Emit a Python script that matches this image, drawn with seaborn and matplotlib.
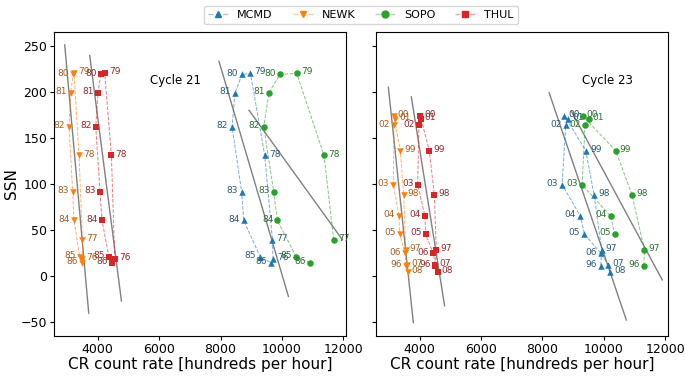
import numpy as np
import pandas as pd
import seaborn as sns
import matplotlib.pyplot as plt
import matplotlib.colors as mcolors
from matplotlib.lines import Line2D

# ---- data ----
stations = ['MCMD', 'NEWK', 'SOPO', 'THUL']

years_c21 = ['76', '77', '78', '79', '80', '81', '82', '83', '84', '85', '86']
ssn_c21 = [18.4, 39.3, 131.0, 220.1, 218.9, 198.9, 162.4, 91.0, 60.5, 20.6, 14.8]
mcmd_c21 = [9710, 9690, 9440, 8974, 8700, 8472, 8375, 8690, 8756, 9300, 9635]
newk_c21 = [3502, 3502, 3391, 3228, 3195, 3121, 3065, 3186, 3228, 3414, 3479]
sopo_c21 = [np.nan, 11687, 11371, 10482, 9928, 9580, 9407, 9733, 9853, 10472, 10928]
thul_c21 = [4554, np.nan, 4446, 4228, 4098, 4010, 3935, 4075, 4140, 4368, 4466]

years_c23 = ['96', '97', '98', '99', '00', '01', '02', '03', '04', '05', '06', '07', '08']
ssn_c23 = [11.6, 28.9, 88.3, 136.3, 173.9, 170.4, 163.6, 99.3, 65.3, 45.8, 24.7, 12.6, 4.2]
mcmd_c23 = [9896, 9929, 9681, 9409, 8715, 8835, 8759, 8640, 9236, 9366, 9908, 10146, 10211]
newk_c23 = [3545, 3545, 3480, 3372, 3154, 3209, 3165, 3144, 3327, 3350, 3522, 3587, 3610]
sopo_c23 = [11307, 11317, 10917, 10384, 9311, 9506, 9389, 9290, 10221, 10351, np.nan, np.nan, np.nan]
thul_c23 = [4510, 4543, 4478, 4315, 4022, 4033, 3978, 3935, 4173, 4195, 4445, 4510, 4585]

# fitted lines: (count rate start, count rate end), (SSN start, SSN end)
fit_c21_x = {'MCMD': [7951, 10212], 'NEWK': [2925, 3707], 'SOPO': [8928, 11971], 'THUL': [3739, 4772]}
fit_c21_y = {'MCMD': [233, -22], 'NEWK': [251, -40], 'SOPO': [180, 39.5], 'THUL': [239.5, -26.8]}
fit_c23_x = {'MCMD': [8218, 10732], 'NEWK': [2982, 3795], 'SOPO': [8943, 11902], 'THUL': [3730, 4813]}
fit_c23_y = {'MCMD': [199, -47.5], 'NEWK': [205, -50.4], 'SOPO': [179, -4], 'THUL': [194.6, -32]}

# years whose label sits to the right of the marker (rising phase)
right_labels = ['76', '77', '78', '79', '97', '98', '99', '00', '01', '07', '08']

colors = {'MCMD': '#1f77b4', 'NEWK': '#ff7f0e', 'SOPO': '#2ca02c', 'THUL': '#d62728'}
markers = {'MCMD': '^', 'NEWK': 'v', 'SOPO': 'o', 'THUL': 's'}


def darken(c, f=0.45):
    r, g, b = mcolors.to_rgb(c)
    d = 0.2
    return (r * (1 - f) + d * f, g * (1 - f) + d * f, b * (1 - f) + d * f)


def make_df(years, ssn, rates):
    frames = []
    for st, vals in zip(stations, rates):
        d = pd.DataFrame({'year': years, 'SSN': ssn, 'rate': vals, 'station': st})
        frames.append(d.dropna())
    return pd.concat(frames, ignore_index=True)


df21 = make_df(years_c21, ssn_c21, [mcmd_c21, newk_c21, sopo_c21, thul_c21])
df23 = make_df(years_c23, ssn_c23, [mcmd_c23, newk_c23, sopo_c23, thul_c23])

fig, axes = plt.subplots(1, 2, figsize=(6.85, 3.76), dpi=100, sharex=True, sharey=True)
fig.subplots_adjust(left=0.079, right=0.975, top=0.915, bottom=0.106, wspace=0.103)


def draw(ax, df, fit_x, fit_y, title, title_pos):
    for st in stations:
        ax.plot(fit_x[st], fit_y[st], color='gray', lw=1.0, zorder=1)
    for st in stations:
        d = df[df['station'] == st]
        sns.lineplot(data=d, x='rate', y='SSN', sort=False, estimator=None, ax=ax,
                     color=colors[st], alpha=0.6, lw=0.7, linestyle='--', zorder=2)
        sns.scatterplot(data=d, x='rate', y='SSN', ax=ax, marker=markers[st],
                        color=colors[st], s=22, linewidth=0, zorder=3)
        tc = darken(colors[st])
        for _, row in d.iterrows():
            if row['year'] in right_labels:
                off, ha = (3, 1), 'left'
            else:
                off, ha = (-3, 1), 'right'
            ax.annotate(row['year'], (row['rate'], row['SSN']), xytext=off,
                        textcoords='offset points', ha=ha, va='center',
                        fontsize=6.5, color=tc)
    ax.text(title_pos[0], title_pos[1], title, fontsize=8.5, va='center', ha='left')
    ax.set_xlabel('CR count rate [hundreds per hour]', fontsize=11, labelpad=1)
    ax.set_ylabel('SSN', fontsize=11, labelpad=1)
    ax.tick_params(labelsize=9, length=3, pad=2)


draw(axes[0], df21, fit_c21_x, fit_c21_y, 'Cycle 21', (5700, 212))
draw(axes[1], df23, fit_c23_x, fit_c23_y, 'Cycle 23', (9300, 212))
axes[1].set_ylabel('')

axes[0].set_xlim(2580, 12085)
axes[0].set_ylim(-65, 265)
axes[0].set_xticks([4000, 6000, 8000, 10000, 12000])
axes[0].set_yticks([-50, 0, 50, 100, 150, 200, 250])

handles = []
for st in stations:
    r, g, b = mcolors.to_rgb(colors[st])
    handles.append(Line2D([], [], color=(r, g, b, 0.4), lw=1.0, linestyle='--',
                          marker=markers[st], markersize=5,
                          markerfacecolor=colors[st], markeredgecolor=colors[st]))
fig.legend(handles, stations, loc='upper center', bbox_to_anchor=(0.527, 1.0),
           ncol=4, fontsize=8, frameon=True, handlelength=1.8, columnspacing=1.8)

fig.savefig('out.png', dpi=100)
